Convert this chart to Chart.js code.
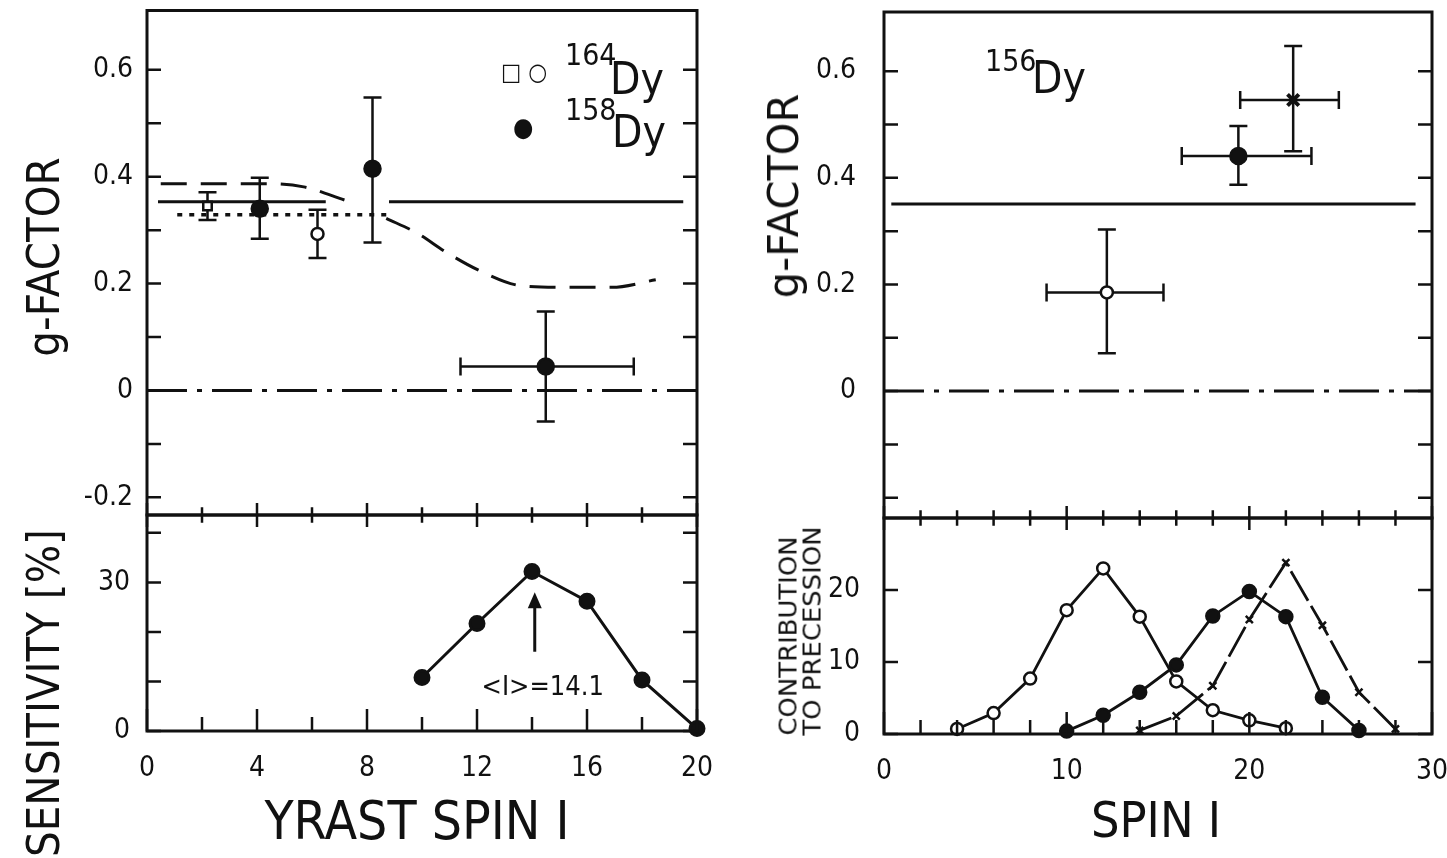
<!DOCTYPE html>
<html>
<head>
<meta charset="utf-8">
<script src="https://cdn.jsdelivr.net/npm/chart.js@4.4.0/dist/chart.umd.min.js"></script>
<style>
  body { margin: 0; background: #fff; width: 1447px; height: 858px; overflow: hidden; position: relative;
         font-family: 'DejaVu Sans Condensed', 'DejaVu Sans', sans-serif; color: #111; }
  canvas { position: absolute; left: 0; top: 0; }
  .t { position: absolute; white-space: nowrap; line-height: 1; }
  .rot { transform: translate(-50%, -50%) rotate(-90deg); }
  .ctr { transform: translate(-50%, -50%); }
</style>
</head>
<body>
<canvas id="gLeft" width="1447" height="858"></canvas>
<canvas id="sensLeft" width="1447" height="858"></canvas>
<canvas id="gRight" width="1447" height="858"></canvas>
<canvas id="contRight" width="1447" height="858"></canvas>

<!-- axis titles -->
<div class="t rot" style="left:43px; top:257px; font-size:45px;">g-FACTOR</div>
<div class="t rot" style="left:43px; top:693px; font-size:45px;">SENSITIVITY [%]</div>
<div class="t" style="left:784px; top:196px; font-size:42px; transform: translate(-50%, -50%) rotate(-90deg) scaleX(1.1);">g-FACTOR</div>
<div class="t" style="left:801px; top:631px; font-size:24px; line-height:1.02; text-align:left; transform: translate(-50%, -50%) rotate(-90deg) scaleX(1.2);">CONTRIBUTION<br>TO PRECESSION</div>
<div class="t ctr" style="left:417px; top:820px; font-size:53px;">YRAST SPIN I</div>
<div class="t ctr" style="left:1156px; top:820px; font-size:50px;">SPIN I</div>

<!-- isotope labels -->
<div class="t" style="left:501px; top:60px; font-size:24px;">□ ○</div>
<div class="t" style="left:565px; top:40px; font-size:30px;">164</div>
<div class="t" style="left:610px; top:57px; font-size:44px;">Dy</div>
<div class="t" style="left:513px; top:114px; font-size:26px;">●</div>
<div class="t" style="left:565px; top:95px; font-size:30px;">158</div>
<div class="t" style="left:612px; top:110px; font-size:44px;">Dy</div>
<div class="t" style="left:985px; top:46px; font-size:30px;">156</div>
<div class="t" style="left:1032px; top:56px; font-size:44px;">Dy</div>

<script>
// ---------- tick values ----------
const leftSpinTicks = [0, 2, 4, 6, 8, 10, 12, 14, 16, 18, 20];
const rightSpinTicks = [0, 2, 4, 6, 8, 10, 12, 14, 16, 18, 20, 22, 24, 26, 28, 30];
const gTicks = [-0.2, -0.1, 0, 0.1, 0.2, 0.3, 0.4, 0.5, 0.6];
const gLabelsLeft = [-0.2, 0, 0.2, 0.4, 0.6];
const gLabelsRight = [0, 0.2, 0.4, 0.6];
const sensTicks = [0, 10, 20, 30, 40];
const sensLabels = [0, 30];
const contTicks = [0, 10, 20];

// ---------- 164Dy / 158Dy g-factors ----------
const dy164SqSpin = [2.2];
const dy164SqG = [0.345];
const dy164SqErr = [0.026];
const dy164CircSpin = [6.2];
const dy164CircG = [0.293];
const dy164CircErr = [0.045];
const dy158Spin = [4.1, 8.2, 14.5];
const dy158G = [0.34, 0.415, 0.045];
const dy158GLow = [0.284, 0.277, -0.058];
const dy158GHigh = [0.398, 0.548, 0.148];
const dy158SpinLow = [null, null, 11.4];
const dy158SpinHigh = [null, null, 17.7];

// theory curves (left)
const collSpin = [0.4, 6.5, 6.6, 8.8, 19.5];
const collG = [0.353, 0.353, null, 0.353, 0.353];
const dashSpin = [0.5, 4.5, 5.7, 7.2, 7.3, 8.7, 9.8, 10.9, 12.1, 13.6, 15.1, 16.9, 18.5];
const dashG = [0.387, 0.387, 0.381, 0.356, null, 0.322, 0.295, 0.258, 0.224, 0.196, 0.193, 0.193, 0.207];
const dotSpin = [1.1, 8.8];
const dotG = [0.329, 0.329];
const zeroLeftSpin = [0, 20];
const zeroG = [0, 0];

// sensitivity
const sensSpin = [10, 12, 14, 16, 18, 20];
const sensPct = [10.8, 21.7, 32.2, 26.2, 10.3, 0.5];
const meanSpin = 14.1;

// ---------- 156Dy ----------
const dy156Spin = [12.2, 19.4, 22.4];
const dy156G = [0.185, 0.441, 0.546];
const dy156GLow = [0.071, 0.387, 0.45];
const dy156GHigh = [0.303, 0.497, 0.647];
const dy156SpinLow = [8.9, 16.3, 19.5];
const dy156SpinHigh = [15.3, 23.4, 24.9];
const coll156Spin = [0.4, 29.1];
const coll156G = [0.351, 0.351];
const zeroRightSpin = [0, 30];

// contribution to precession
const contSpinOpen = [4, 6, 8, 10, 12, 14, 16, 18, 20, 22];
const contOpen = [0.7, 2.9, 7.7, 17.2, 23.0, 16.3, 7.3, 3.3, 1.9, 0.8];
const contSpinFilled = [10, 12, 14, 16, 18, 20, 22, 24, 26];
const contFilled = [0.4, 2.6, 5.8, 9.6, 16.4, 19.8, 16.3, 5.1, 0.5];
const contSpinCross = [14, 16, 18, 20, 22, 24, 26, 28];
const contCross = [0.5, 2.5, 6.7, 15.9, 23.8, 15.1, 5.8, 0.7];

// ---------- helpers ----------
const W = 1447, H = 858;
const INK = '#111';
const FONT = "'DejaVu Sans Condensed', 'DejaVu Sans', sans-serif";
const Y_BOX = 120;  // room kept for y tick labels
const X_BOX = 60;   // room kept for x tick labels
const pts = (xs, ys) => xs.map((x, i) => ({ x: x, y: ys[i] }));

// frame + inward tick marks
const framePlugin = {
  id: 'frame',
  afterDraw(chart, args, opts) {
    const { ctx, chartArea: a, scales } = chart;
    const x = scales.x, y = scales.y;
    ctx.save();
    ctx.strokeStyle = INK;
    ctx.lineWidth = 3;
    ctx.strokeRect(a.left, a.top, a.width, a.height);
    ctx.lineWidth = 2.5;
    ctx.beginPath();
    y.ticks.forEach(t => {
      const py = y.getPixelForValue(t.value);
      ctx.moveTo(a.left, py); ctx.lineTo(a.left + opts.yLen, py);
      ctx.moveTo(a.right, py); ctx.lineTo(a.right - opts.yLen, py);
    });
    if (opts.xTicks) {
      x.ticks.forEach(t => {
        const px = x.getPixelForValue(t.value);
        const major = Math.abs(t.value % opts.xMajor) < 1e-9;
        const len = major ? opts.xLong : opts.xShort;
        ctx.moveTo(px, a.bottom); ctx.lineTo(px, a.bottom - len);
        ctx.moveTo(px, a.top - len * 0.55); ctx.lineTo(px, a.top + len * 0.55);
      });
    }
    ctx.stroke();
    ctx.restore();
  }
};

// error bars from raw data (xLow/xHigh, yLow/yHigh)
const errorBarPlugin = {
  id: 'errorBars',
  beforeDatasetsDraw(chart) {
    const { ctx, scales } = chart;
    const x = scales.x, y = scales.y;
    const cap = 9;
    ctx.save();
    ctx.strokeStyle = INK;
    ctx.lineWidth = 2.5;
    chart.data.datasets.forEach(ds => {
      ds.data.forEach(d => {
        if (d.yLow == null && d.xLow == null) return;
        const cx = x.getPixelForValue(d.x), cy = y.getPixelForValue(d.y);
        ctx.beginPath();
        if (d.yLow != null) {
          const y1 = y.getPixelForValue(d.yLow), y2 = y.getPixelForValue(d.yHigh);
          ctx.moveTo(cx, y1); ctx.lineTo(cx, y2);
          ctx.moveTo(cx - cap, y1); ctx.lineTo(cx + cap, y1);
          ctx.moveTo(cx - cap, y2); ctx.lineTo(cx + cap, y2);
        }
        if (d.xLow != null) {
          const x1 = x.getPixelForValue(d.xLow), x2 = x.getPixelForValue(d.xHigh);
          ctx.moveTo(x1, cy); ctx.lineTo(x2, cy);
          ctx.moveTo(x1, cy - cap); ctx.lineTo(x1, cy + cap);
          ctx.moveTo(x2, cy - cap); ctx.lineTo(x2, cy + cap);
        }
        ctx.stroke();
      });
    });
    ctx.restore();
  }
};

// arrow marking the mean spin
const arrowPlugin = {
  id: 'meanArrow',
  afterDatasetsDraw(chart) {
    const { ctx, scales } = chart;
    const px = scales.x.getPixelForValue(meanSpin);
    const yTail = scales.y.getPixelForValue(16);
    const yTip = scales.y.getPixelForValue(28);
    ctx.save();
    ctx.strokeStyle = INK; ctx.fillStyle = INK; ctx.lineWidth = 3;
    ctx.beginPath(); ctx.moveTo(px, yTail); ctx.lineTo(px, yTip + 10); ctx.stroke();
    ctx.beginPath(); ctx.moveTo(px, yTip); ctx.lineTo(px - 7, yTip + 16); ctx.lineTo(px + 7, yTip + 16); ctx.closePath(); ctx.fill();
    ctx.font = '27px ' + FONT;
    ctx.textAlign = 'center'; ctx.textBaseline = 'middle';
    ctx.fillText('<I>=' + meanSpin, px + 8, scales.y.getPixelForValue(8.6));
    ctx.restore();
  }
};

function axis(min, max, tickVals, labelFn, horizontal, show, pad) {
  return {
    type: 'linear', min: min, max: max, display: show,
    grid: { display: false }, border: { display: false },
    afterBuildTicks: s => { s.ticks = tickVals.map(v => ({ value: v })); },
    afterFit: s => {
      if (horizontal) s.height = show ? X_BOX : 0; else s.width = show ? Y_BOX : 0;
      s.paddingTop = 0; s.paddingBottom = 0; s.paddingLeft = 0; s.paddingRight = 0;
    },
    ticks: {
      autoSkip: false, maxRotation: 0, padding: pad, color: INK,
      font: { family: FONT, size: 28 },
      callback: labelFn
    }
  };
}

function makeChart(id, area, datasets, scales, frameOpts, extra) {
  const padLeft = area[0] - (scales.y.display ? Y_BOX : 0);
  const padBottom = H - area[3] - (scales.x.display ? X_BOX : 0);
  return new Chart(document.getElementById(id), {
    type: 'line',
    data: { datasets: datasets },
    options: {
      responsive: false, animation: false, events: [],
      layout: { padding: { left: padLeft, top: area[1], right: W - area[2], bottom: padBottom } },
      plugins: { legend: { display: false }, tooltip: { enabled: false }, frame: frameOpts },
      scales: scales
    },
    plugins: [errorBarPlugin, framePlugin].concat(extra || [])
  });
}

const lineDs = (data, dash, width) => ({
  data: data, borderColor: INK, borderWidth: width || 3, borderDash: dash || [],
  pointRadius: 0, spanGaps: false, fill: false, cubicInterpolationMode: 'monotone', clip: false
});
const markDs = (data, style, radius, filled, width) => ({
  data: data, showLine: false, pointStyle: style, pointRadius: radius,
  pointBackgroundColor: filled ? INK : '#fff', pointBorderColor: INK, pointBorderWidth: width || 2.5,
  clip: false
});
const fmtG = list => v => list.includes(v) ? (v === 0 ? '0' : v.toFixed(1)) : '';

// ---------- left top: g-factor vs yrast spin ----------
const withYErr = (xs, ys, lo, hi) => xs.map((x, i) => ({ x: x, y: ys[i], yLow: lo[i], yHigh: hi[i] }));
makeChart('gLeft', [147, 10, 697, 515], [
  lineDs(pts(collSpin, collG)),
  lineDs(pts(dashSpin, dashG), [26, 14]),
  lineDs(pts(dotSpin, dotG), [5, 7], 3.5),
  lineDs(pts(zeroLeftSpin, zeroG), [40, 10, 5, 10]),
  markDs(withYErr(dy164SqSpin, dy164SqG, dy164SqG.map((g, i) => g - dy164SqErr[i]), dy164SqG.map((g, i) => g + dy164SqErr[i])), 'rect', 6, false),
  markDs(withYErr(dy164CircSpin, dy164CircG, dy164CircG.map((g, i) => g - dy164CircErr[i]), dy164CircG.map((g, i) => g + dy164CircErr[i])), 'circle', 6, false),
  markDs(dy158Spin.map((x, i) => ({ x: x, y: dy158G[i], yLow: dy158GLow[i], yHigh: dy158GHigh[i], xLow: dy158SpinLow[i], xHigh: dy158SpinHigh[i] })), 'circle', 8, true)
], {
  x: axis(0, 20, leftSpinTicks, () => '', true, false, 0),
  y: axis(-0.233, 0.711, gTicks, fmtG(gLabelsLeft), false, true, 6)
}, { yLen: 14, xTicks: false });

// ---------- left bottom: sensitivity ----------
makeChart('sensLeft', [147, 515, 697, 731], [
  Object.assign(lineDs(pts(sensSpin, sensPct)), { pointRadius: 7, pointBackgroundColor: INK, pointBorderColor: INK, cubicInterpolationMode: 'default', tension: 0 })
], {
  x: axis(0, 20, leftSpinTicks, v => v % 4 === 0 ? String(v) : '', true, true, 13),
  y: axis(0, 43.6, sensTicks, v => sensLabels.includes(v) ? String(v) : '', false, true, 9)
}, { yLen: 14, xTicks: true, xMajor: 4, xLong: 22, xShort: 14 }, [arrowPlugin]);

// ---------- right top: 156Dy g-factor ----------
makeChart('gRight', [884, 10, 1432, 518], [
  lineDs(pts(coll156Spin, coll156G)),
  lineDs(pts(zeroRightSpin, zeroG), [40, 10, 5, 10]),
  markDs([{ x: dy156Spin[0], y: dy156G[0], yLow: dy156GLow[0], yHigh: dy156GHigh[0], xLow: dy156SpinLow[0], xHigh: dy156SpinHigh[0] }], 'circle', 6, false),
  markDs([{ x: dy156Spin[1], y: dy156G[1], yLow: dy156GLow[1], yHigh: dy156GHigh[1], xLow: dy156SpinLow[1], xHigh: dy156SpinHigh[1] }], 'circle', 8, true),
  markDs([{ x: dy156Spin[2], y: dy156G[2], yLow: dy156GLow[2], yHigh: dy156GHigh[2], xLow: dy156SpinLow[2], xHigh: dy156SpinHigh[2] }], 'crossRot', 8, true, 4)
], {
  x: axis(0, 30, rightSpinTicks, () => '', true, false, 0),
  y: axis(-0.238, 0.711, gTicks, fmtG(gLabelsRight), false, true, 20)
}, { yLen: 14, xTicks: false });

// ---------- right bottom: contribution to precession ----------
const contDs = (data, style, radius, filled, dash) => Object.assign(lineDs(data, dash, 2.8), {
  pointStyle: style, pointRadius: radius, pointBackgroundColor: filled ? INK : '#fff',
  pointBorderColor: INK, pointBorderWidth: 2.5, cubicInterpolationMode: 'default', tension: 0
});
makeChart('contRight', [884, 518, 1432, 734], [
  contDs(pts(contSpinOpen, contOpen), 'circle', 6, false),
  contDs(pts(contSpinFilled, contFilled), 'circle', 6.5, true),
  contDs(pts(contSpinCross, contCross), 'crossRot', 5, true, [34, 6])
], {
  x: axis(0, 30, rightSpinTicks, v => v % 10 === 0 ? String(v) : '', true, true, 13),
  y: axis(0, 30, contTicks, v => String(v), false, true, 16)
}, { yLen: 14, xTicks: true, xMajor: 10, xLong: 22, xShort: 14 });
</script>
</body>
</html>
